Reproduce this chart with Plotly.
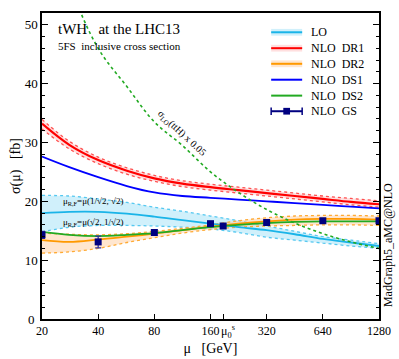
import numpy as np
import plotly.graph_objects as go

# scale grid (GeV), half-octave steps
MU = [20, 28, 40, 57, 80, 113, 160, 226, 320, 453, 640, 905, 1280]

LO_C  = [18.0, 18.2, 18.2, 17.9, 17.4, 16.8, 16.2, 15.6, 15.1, 14.4, 13.6, 13.0, 12.4]
LO_UP = [21.0, 20.9, 20.4, 19.8, 19.0, 18.3, 17.5, 16.7, 15.8, 14.9, 14.0, 13.4, 12.8]
LO_DN = [14.8, 15.6, 15.9, 15.9, 15.8, 15.6, 15.3, 14.7, 13.9, 13.4, 12.9, 12.4, 12.0]

DR1_C  = [33.2, 29.6, 27.0, 25.2, 23.9, 23.0, 22.4, 21.9, 21.4, 20.9, 20.4, 19.9, 19.5]
DR1_UP = [33.9, 30.2, 27.5, 25.7, 24.4, 23.5, 22.9, 22.4, 21.9, 21.4, 20.9, 20.5, 20.1]
DR1_DN = [32.3, 28.9, 26.4, 24.6, 23.4, 22.5, 21.9, 21.4, 20.9, 20.4, 19.9, 19.4, 19.0]

DR2_C  = [13.4, 13.1, 13.5, 14.0, 14.5, 15.1, 15.7, 16.2, 16.6, 16.9, 17.0, 17.0, 16.9]
DR2_UP = [14.6, 14.4, 14.3, 14.5, 14.9, 15.4, 16.0, 16.7, 17.2, 17.5, 17.6, 17.6, 17.5]
DR2_DN = [11.2, 11.4, 12.0, 13.0, 13.8, 14.6, 15.2, 15.6, 15.8, 15.9, 16.0, 16.0, 15.9]

DS1 = [27.6, 25.8, 24.1, 22.6, 21.5, 20.9, 20.6, 20.3, 20.0, 19.7, 19.4, 19.1, 18.8]
DS2 = [14.8, 14.3, 14.1, 14.3, 14.6, 15.1, 15.6, 16.0, 16.3, 16.5, 16.6, 16.6, 16.6]

TTH = [72.0, 57.0, 46.0, 39.5, 33.5, 29.5, 25.0, 21.5, 18.6, 16.3, 14.5, 13.1, 12.0]

GS_MU  = [20, 40, 80, 160, 187, 320, 640, 1280]
GS_VAL = [14.3, 13.1, 14.7, 16.2, 15.8, 16.4, 16.7, 16.7]
GS_ERR = [0.6, 1.0, 0.5, 0.3, 0.3, 0.4, 0.2, 0.2]

X_TICKS = [20, 40, 80, 160, 187, 320, 640, 1280]
X_TICKTEXT = ['20', '40', '80', '160', '', '320', '640', '1280']
Y_TICKS = [10, 20, 30, 40, 50]
MU0_S = 187

FONT = 'Liberation Serif, Times New Roman, serif'

C_LO, C_LO_BAND = '#1ab4e8', 'rgba(170,228,248,0.55)'
C_DR1, C_DR1_BAND = '#ff0000', 'rgba(255,175,175,0.4)'
C_DR2, C_DR2_BAND = '#ff9900', 'rgba(255,205,160,0.5)'
C_DS1 = '#0000ff'
C_DS2 = '#22aa22'
C_GS = '#000080'


def band(lo, up, fill, edge):
    return [
        go.Scatter(x=MU, y=lo, mode='lines', line=dict(color=edge, width=1.3, dash='dot', shape='spline'),
                   showlegend=False, hoverinfo='skip'),
        go.Scatter(x=MU, y=up, mode='lines', line=dict(color=edge, width=1.3, dash='dot', shape='spline'),
                   fill='tonexty', fillcolor=fill, showlegend=False, hoverinfo='skip'),
    ]


def curve(y, color, width=1.8, dash='solid'):
    return go.Scatter(x=MU, y=y, mode='lines', showlegend=False,
                      line=dict(color=color, width=width, dash=dash, shape='spline'))


traces = []
traces += band(LO_DN, LO_UP, C_LO_BAND, '#55c8f0')
traces += band(DR1_DN, DR1_UP, C_DR1_BAND, '#ff5050')
traces += band(DR2_DN, DR2_UP, C_DR2_BAND, '#ffaa33')
traces += [
    curve(LO_C, C_LO),
    curve(DR1_C, C_DR1, 2.2),
    curve(DR2_C, C_DR2),
    curve(DS1, C_DS1),
    curve(DS2, C_DS2),
    curve(TTH, C_DS2, 1.6, 'dot'),
    go.Scatter(x=GS_MU, y=GS_VAL, mode='markers', showlegend=False,
               marker=dict(symbol='square', size=7, color=C_GS),
               error_y=dict(type='data', array=GS_ERR, color='#3030a0', thickness=1.3, width=3)),
]

fig = go.Figure(traces)

annotations = [
    dict(text='tWH   at the LHC13', x=0.042, y=0.948, xref='paper', yref='paper',
         xanchor='left', yanchor='middle', showarrow=False, font=dict(size=15)),
    dict(text='5FS  inclusive cross section', x=0.042, y=0.892, xref='paper', yref='paper',
         xanchor='left', yanchor='middle', showarrow=False, font=dict(size=11)),
    dict(text='σ<sub>LO</sub>(ttH) x 0.05', x=np.log10(112), y=31.6, textangle=43,
         showarrow=False, font=dict(size=10)),
    dict(text='μ<sub>R,F</sub>=μ(1/√2, √2)', x=np.log10(37.5), y=19.9,
         showarrow=False, font=dict(size=9)),
    dict(text='μ<sub>R,F</sub>=μ(√2, 1/√2)', x=np.log10(37.5), y=16.4,
         showarrow=False, font=dict(size=9)),
    dict(text='μ<sub>0</sub><sup>s</sup>', x=np.log10(MU0_S) + 0.024, y=-0.04, xref='x', yref='paper',
         xanchor='center', yanchor='middle', showarrow=False, font=dict(size=12)),
    dict(text='MadGraph5_aMC@NLO', x=1.027, y=0.242, xref='paper', yref='paper', textangle=-90,
         xanchor='center', yanchor='middle', showarrow=False, font=dict(size=12)),
    # the zero label at the corner, which plotly drops here
    dict(text='0', x=0, y=0, xref='paper', yref='y', xanchor='right', yanchor='middle',
         xshift=-5, showarrow=False, font=dict(size=13)),
]

# hand-drawn legend, top right
shapes = []
LEG_X0, LEG_X1, LEG_TX = 0.680, 0.772, 0.793
legend_rows = [
    ('LO', C_LO, C_LO_BAND, 0.937),
    ('NLO  DR1', C_DR1, C_DR1_BAND, 0.885),
    ('NLO  DR2', C_DR2, C_DR2_BAND, 0.834),
    ('NLO  DS1', C_DS1, None, 0.782),
    ('NLO  DS2', C_DS2, None, 0.730),
    ('NLO  GS', C_GS, None, 0.679),
]
for name, col, bcol, ly in legend_rows:
    if bcol:
        shapes.append(dict(type='rect', xref='paper', yref='paper', x0=LEG_X0, x1=LEG_X1,
                           y0=ly - 0.011, y1=ly + 0.011, fillcolor=bcol, line=dict(width=0)))
    shapes.append(dict(type='line', xref='paper', yref='paper', x0=LEG_X0, x1=LEG_X1,
                       y0=ly, y1=ly, line=dict(color=col, width=2)))
    annotations.append(dict(text=name, x=LEG_TX, y=ly, xref='paper', yref='paper',
                            xanchor='left', yanchor='middle', showarrow=False, font=dict(size=12)))
gy = legend_rows[-1][3]
for xc in (LEG_X0, LEG_X1):
    shapes.append(dict(type='line', xref='paper', yref='paper', x0=xc, x1=xc,
                       y0=gy - 0.012, y1=gy + 0.012, line=dict(color=C_GS, width=1.5)))
xm = (LEG_X0 + LEG_X1) / 2
shapes.append(dict(type='rect', xref='paper', yref='paper', x0=xm - 0.01, x1=xm + 0.01,
                   y0=gy - 0.011, y1=gy + 0.011, fillcolor=C_GS, line=dict(width=0)))

fig.update_layout(
    width=399, height=359,
    margin=dict(l=42, r=20, t=13, b=40),
    paper_bgcolor='white', plot_bgcolor='white',
    font=dict(family=FONT, color='black', size=13),
    showlegend=False,
    annotations=annotations,
    shapes=shapes,
    xaxis=dict(
        type='log', range=[np.log10(20), np.log10(1280)],
        tickvals=X_TICKS, ticktext=X_TICKTEXT,
        ticks='inside', ticklen=5, tickwidth=1, tickcolor='black',
        showline=True, linecolor='black', linewidth=1.5, mirror=True,
        showgrid=False, zeroline=False, automargin=False, ticklabeloverflow='allow',
        tickfont=dict(size=12),
        title=dict(text='μ   [GeV]', font=dict(size=14), standoff=6),
    ),
    yaxis=dict(
        range=[0, 52], tickvals=Y_TICKS,
        ticks='inside', ticklen=6, tickwidth=1, tickcolor='black',
        minor=dict(dtick=2, ticks='inside', ticklen=3, tickcolor='black', showgrid=False),
        showline=True, linecolor='black', linewidth=1.5, mirror='allticks',
        showgrid=False, zeroline=False, ticklabeloverflow='allow',
        tickfont=dict(size=13),
        title=dict(text='σ(μ)   [fb]', font=dict(size=14), standoff=1),
    ),
)

# drop the default 8px page margin so the 399x359 figure fills the window
fig.write_html('out.html', config={'displayModeBar': False},
               post_script="document.body.style.margin='0px';")
